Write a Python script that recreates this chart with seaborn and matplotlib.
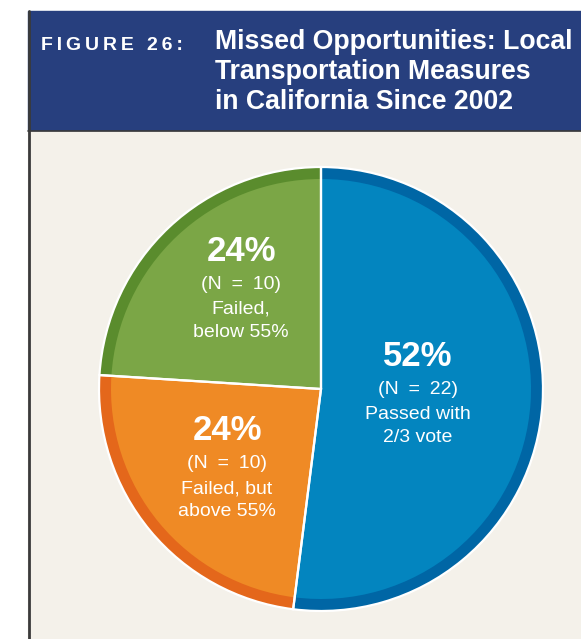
import matplotlib
matplotlib.use('Agg')
import seaborn as sns
from matplotlib import pyplot as plt
from matplotlib.patches import Rectangle

# data
labels = [['Passed with', '2/3 vote'], ['Failed, but', 'above 55%'], ['Failed,', 'below 55%']]
shares = [52, 24, 24]
counts = [22, 10, 10]
main_colors = ['#0385BF', '#EF8A25', '#7BA646']
rim_colors = ['#0066A5', '#E4671B', '#5A8C2D']
title_lines = ['Missed Opportunities: Local', 'Transportation Measures', 'in California Since 2002']

sns.set_theme(style='white')
plt.rcParams['font.family'] = ['Liberation Sans', 'DejaVu Sans']

W, H = 581, 639
fig = plt.figure(figsize=(W / 100, H / 100), dpi=100)
fig.patch.set_facecolor('white')
ax = fig.add_axes([0, 0, 1, 1])
ax.set_xlim(0, W)
ax.set_ylim(0, H)

# background panels (pixel coords, y up)
ax.add_patch(Rectangle((28, 0), W - 28, H - 130, color='#F4F1EA', zorder=0))
ax.add_patch(Rectangle((28, H - 130), W - 28, 119, color='#273F7E', zorder=0))
ax.plot([28, W], [H - 130.5, H - 130.5], color='#3A3A3A', lw=1.2, zorder=1)
ax.plot([28.5, 28.5], [0, H - 11], color='#3A3A3A', lw=2, zorder=1)

cx, cy, r = 321, H - 389, 222
common = dict(startangle=90, counterclock=False, center=(cx, cy), frame=True)
ax.pie(shares, colors=rim_colors, radius=r, wedgeprops=dict(linewidth=0), **common)
ax.pie(shares, colors=main_colors, radius=r - 12, wedgeprops=dict(linewidth=0), **common)
ax.pie(shares, colors=['none'] * 3, radius=r,
       wedgeprops=dict(linewidth=1.6, edgecolor='white', facecolor='none'), **common)

# wedge labels (baseline of the percent figure)
label_pos = [(418, 366), (227, 440), (241, 261)]
for (x, y), s, n, lab in zip(label_pos, shares, counts, labels):
    ax.text(x, H - y, f'{s}%', color='white', fontsize=25, fontweight='bold',
            ha='center', va='baseline')
    ax.text(x, H - y - 28, f'(N\u2002=\u2002{n})', color='white', fontsize=14,
            ha='center', va='baseline')
    ax.text(x, H - y - 53, lab[0], color='white', fontsize=14, ha='center', va='baseline')
    ax.text(x, H - y - 76, lab[1], color='white', fontsize=14, ha='center', va='baseline')

# header
ax.text(41, H - 50, '\u2009'.join('FIGURE 26:'), color='white', fontsize=14,
        fontweight='bold', ha='left', va='baseline')
renderer = fig.canvas.get_renderer()
tt = []
for i, line in enumerate(title_lines):
    tt.append(ax.text(215, H - 49 - 30 * i, line, color='white', fontsize=18,
                      fontweight='bold', ha='left', va='baseline'))
w0 = tt[0].get_window_extent(renderer).width
fs = min(max(18 * 357 / w0, 16.5), 19.5)
for t in tt:
    t.set_fontsize(fs)

ax.set_aspect('auto')
ax.axis('off')

fig.savefig('out.png', dpi=100)
